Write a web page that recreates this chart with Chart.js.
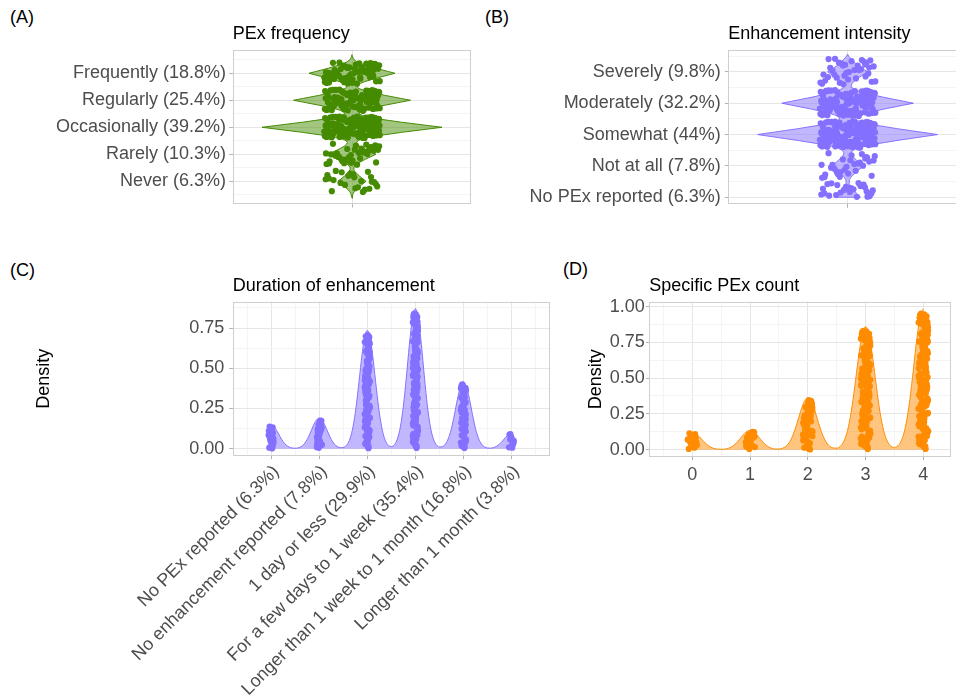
<!DOCTYPE html>
<html>
<head>
<meta charset="utf-8">
<script src="https://cdn.jsdelivr.net/npm/chart.js"></script>
<style>
html,body{margin:0;padding:0;width:956px;height:698px;overflow:hidden;background:#fff;}
.cv{position:absolute;}
.lab{position:absolute;font-family:"Liberation Sans",Arial,Helvetica,sans-serif;font-size:18px;line-height:18px;color:#000;white-space:nowrap;}
</style>
</head>
<body>
<div class="lab" style="left:10px;top:8px">(A)</div>
<div class="lab" style="left:485px;top:8px">(B)</div>
<div class="lab" style="left:10px;top:261px">(C)</div>
<div class="lab" style="left:563px;top:260px">(D)</div>
<canvas id="cA" class="cv" style="left:0px;top:0px;width:480px;height:219px" width="480" height="219"></canvas>
<canvas id="cB" class="cv" style="left:480px;top:0px;width:490px;height:220px" width="490" height="220"></canvas>
<canvas id="cC" class="cv" style="left:0px;top:255px;width:560px;height:443px" width="560" height="443"></canvas>
<canvas id="cD" class="cv" style="left:560px;top:255px;width:396px;height:250px" width="396" height="250"></canvas>
<script>
// ---------------- DATA ----------------
// (A) PEx frequency — categories bottom to top
const labelsA = ['Never (6.3%)', 'Rarely (10.3%)', 'Occasionally (39.2%)', 'Regularly (25.4%)', 'Frequently (18.8%)'];
const countsA = [25, 41, 156, 101, 75];
const jitterSideA = [0, 0, 0, 0, 0];          // 0 = both ways, 1 = upward only
// violin half-width, y from 0.375 in steps of 0.0625
const violinStartA = 0.375;
const violinWidthA = [0, 0.35, 0.7, 1.4, 2.5, 3.9, 5.9, 7.7, 9.8, 11.9, 14,
  11.9, 9.8, 7.7, 5.9, 4.0, 2.8, 2.0, 1.9, 2.75, 4.5, 6.8, 10.1, 13.2, 16.8, 20.4, 24,
  20.4, 16.8, 13.2, 10.1, 7.2, 5.4, 4.65, 5.7, 9.6, 16.5, 25.3, 37.8, 49.5, 63, 76.5, 90,
  76.5, 63, 49.5, 37.8, 25.5, 16.9, 10.5, 7.4, 8.1, 11.6, 16.8, 24.6, 32.2, 41, 49.7, 58.5,
  49.7, 41, 32.2, 24.6, 16.6, 11.0, 6.9, 5.1, 5.8, 8.4, 12.3, 18.1, 23.7, 30.1, 36.6, 43,
  36.6, 30.1, 23.7, 18.1, 12, 7.7, 4.3, 2.15, 1.1, 0.4, 0];

// (B) Enhancement intensity — categories bottom to top
const labelsB = ['No PEx reported (6.3%)', 'Not at all (7.8%)', 'Somewhat (44%)', 'Moderately (32.2%)', 'Severely (9.8%)'];
const countsB = [25, 31, 175, 128, 39];
const jitterSideB = [1, 0, 0, 0, 0];
const violinStartB = 1.0;
const violinWidthB = [12.9, 10.97, 9.03, 7.10, 5.42, 3.69, 2.51, 1.69, 1.45, 1.92, 3.03, 4.54, 6.72, 8.8, 11.2, 13.6, 16,
  13.6, 11.2, 8.8, 6.72, 4.93, 3.96, 3.85, 5.3, 9.4, 16.4, 25.3, 37.8, 49.5, 63, 76.5, 90,
  76.5, 63, 49.5, 37.8, 25.5, 17.0, 10.65, 7.8, 8.83, 12.9, 18.9, 27.6, 36.2, 46.1, 55.9, 65.8,
  55.9, 46.1, 36.2, 27.6, 18.5, 12.1, 7.1, 4.3, 3.65, 4.4, 5.9, 8.4, 11, 14, 17, 20,
  17, 14, 11, 8.6, 6.5, 4.6, 2.8, 1.1, 0];

// (C) Duration of enhancement
const labelsC = ['No PEx reported (6.3%)', 'No enhancement reported (7.8%)', '1 day or less (29.9%)',
  'For a few days to 1 week (35.4%)', 'Longer than 1 week to 1 month (16.8%)', 'Longer than 1 month (3.8%)'];
const countsC = [25, 31, 119, 141, 67, 15];
const peaksC = [0.145, 0.19, 0.735, 0.87, 0.415, 0.094];
const densStartC = 1;
const densC = [0.145, 0.1346, 0.1077, 0.0742, 0.0441, 0.0226, 0.0100, 0.0042, 0.0029, 0.0053, 0.0131, 0.0296, 0.0578, 0.0972, 0.1411, 0.1763,
  0.19, 0.1763, 0.1411, 0.0972, 0.0578, 0.0297, 0.0135, 0.0067, 0.0079, 0.0196, 0.0505, 0.1144, 0.2234, 0.3762, 0.5457, 0.6821,
  0.735, 0.6821, 0.5457, 0.3762, 0.2234, 0.1145, 0.0509, 0.0213, 0.0137, 0.0245, 0.0601, 0.1355, 0.2645, 0.4453, 0.6460, 0.8074,
  0.87, 0.8074, 0.6460, 0.4453, 0.2645, 0.1354, 0.0599, 0.0237, 0.0110, 0.0129, 0.0290, 0.0647, 0.1262, 0.2124, 0.3081, 0.3851,
  0.415, 0.3851, 0.3081, 0.2124, 0.1262, 0.0646, 0.0285, 0.0111, 0.0043, 0.0035, 0.0067, 0.0147, 0.0286, 0.0481, 0.0698, 0.0872,
  0.094];

// (D) Specific PEx count
const labelsD = ['0', '1', '2', '3', '4'];
const valuesD = [0, 1, 2, 3, 4];
const countsD = [19, 22, 58, 139, 160];
const peaksD = [0.12, 0.135, 0.36, 0.86, 0.985];
const densStartD = 0;
const densD = [0.12, 0.1114, 0.0891, 0.0614, 0.0365, 0.0187, 0.0083, 0.0035, 0.0022, 0.0038, 0.0093, 0.0210, 0.0410, 0.0691, 0.1002, 0.1253,
  0.135, 0.1253, 0.1002, 0.0691, 0.0410, 0.0210, 0.0095, 0.0044, 0.0042, 0.0097, 0.0248, 0.0560, 0.1094, 0.1842, 0.2673, 0.3341,
  0.36, 0.3341, 0.2673, 0.1842, 0.1094, 0.0561, 0.0252, 0.0115, 0.0104, 0.0233, 0.0592, 0.1338, 0.2614, 0.4401, 0.6386, 0.7981,
  0.86, 0.7981, 0.6386, 0.4401, 0.2614, 0.1339, 0.0596, 0.0248, 0.0158, 0.0278, 0.0681, 0.1533, 0.2994, 0.5041, 0.7314, 0.9141,
  0.985];

// fixed jitter offsets (hand-typed, in percent of jitter range)
const jitterX = [-83, 12, 57, -41, 90, -6, 33, -72, 68, -25, 4, 79, -58, 21, -94, 46, -13, 85, -37, 62, -66, 8, 39, -88, 71, -19, 95, -50, 27, -3,
  53, -77, 16, 88, -31, 64, -97, 42, -9, 74, -45, 30, -62, 99, -22, 5, 81, -70, 48, -15, 36, -86, 59, 2, -54, 93, -28, 67, -11, 24,
  -80, 51, -39, 77, -4, 14, -91, 63, -47, 38, 86, -17, -68, 29, 55, -35, 97, -59, 10, -82, 44, 70, -26, -93, 18, 60, -7, 83, -49, 34,
  -75, 92, -2, 47, -64, 26, 76, -40, 1, -87, 58, -20, 89, -56, 35, -12, 66, -99, 22, -43, 80, -8, 52, -73, 13, 96, -33, 41, -61, 73,
  -24, 7, -84, 50, -16, 87, -52, 19, -95, 65, -36, 31, 94, -69, 45, -1, 78, -46, 23, -79, 56, -29, 11, -90, 69, -14, 37, 84, -57, 3,
  -74, 61, -32, 98, -44, 28, -85, 49, -10, 72, -63, 15, 91, -38, 54, -21, -96, 40, 82, -53, 9, -67, 32, 75, -5, -48, 20, 63];
const jitterY = [27, -64, 88, -15, -47, 72, 3, -91, 40, -33, 65, -8, 96, -55, 19, -77, 51, -26, 84, -69, 11, 37, -98, 58, -4, -42, 79, 24, -86, 45,
  -17, 93, -60, 6, 70, -35, -81, 15, 54, -12, 99, -50, 30, -73, 62, -2, 87, -39, 21, -94, 47, -20, 76, -58, 9, 41, -83, 67, -29, 14,
  -66, 90, -44, 33, -7, 81, -90, 56, -22, 18, -75, 49, 97, -37, 2, -61, 74, -13, 43, -85, 26, 61, -48, 8, -96, 35, -70, 83, -24, 52,
  -1, 68, -79, 16, -53, 92, -31, 39, -88, 5, 77, -45, 59, -16, 23, -67, 95, -40, 12, -57, 85, -9, 46, -92, 31, -28, 71, -74, 4, 63,
  -19, 89, -51, 20, -82, 57, -34, 98, -63, 13, -5, 78, -46, 36, -99, 48, -25, 69, -87, 25, -11, 91, -56, 7, -72, 53, -36, 82, -3, 42,
  -78, 64, -21, 17, -89, 38, -52, 75, -14, 94, -43, 29, -68, 10, 60, -30, 86, -95, 44, -6, 66, -59, 1, -80, 34];

// ---------------- STYLE ----------------
const FONT = '"Liberation Sans", Arial, Helvetica, sans-serif';
const GREEN = '#458B00', GREEN_FILL = 'rgba(69,139,0,0.5)';
const PURPLE = '#8470FF', PURPLE_FILL = 'rgba(132,112,255,0.5)';
const ORANGE = '#FF8C00', ORANGE_FILL = 'rgba(255,140,0,0.5)';
const GRID_MAJOR = '#e6e6e6', GRID_MINOR = '#f4f4f4', TICK_COLOR = '#b3b3b3', BORDER_COLOR = '#cfcfcf';
const DOT_R = 3.1;

Chart.defaults.font.family = FONT;
Chart.defaults.font.size = 18;
Chart.defaults.color = '#4d4d4d';
Chart.defaults.animation = false;

function onStep(v, step) { const r = v / step; return Math.abs(r - Math.round(r)) < 1e-6; }
function gridOpts(step) {
  return {
    color: c => onStep(c.tick.value, step) ? GRID_MAJOR : GRID_MINOR,
    lineWidth: 1,
    drawTicks: true,
    tickLength: 3.5,
    tickWidth: 1,
    tickColor: c => onStep(c.tick.value, step) ? TICK_COLOR : 'rgba(0,0,0,0)'
  };
}
const catLabel = labels => v => (onStep(v, 1) && labels[Math.round(v) - 1] !== undefined) ? labels[Math.round(v) - 1] : '';
function panelTitle(text, padTop) {
  return { display: true, text, align: 'start', fullSize: false, color: '#000',
    font: { size: 18, weight: 'normal', family: FONT }, padding: { top: padTop, bottom: 4.7 } };
}
const borderPlugin = {
  id: 'panelBorder',
  afterDatasetsDraw(chart) {
    const a = chart.chartArea, c = chart.ctx;
    c.save(); c.strokeStyle = BORDER_COLOR; c.lineWidth = 1;
    const l = Math.round(a.left) + 0.5, t = Math.round(a.top) + 0.5, r = Math.round(a.right) - 0.5, b = Math.round(a.bottom) - 0.5;
    c.strokeRect(l, t, r - l, b - t);
    c.restore();
  }
};

// ---------------- BUILDERS ----------------
function violinHalf(start, widths, sign, withBase) {
  const pts = widths.map((w, i) => ({ x: sign * w, y: start + i * 0.0625 }));
  if (withBase) pts.unshift({ x: 0, y: start });
  return pts;
}
function jitterCats(positions, counts, sides, wx, wy) {
  const pts = [];
  const L = jitterX.length;
  positions.forEach((p, i) => {
    const s = (i * 53) % L;
    for (let j = 0; j < counts[i]; j++) {
      const k = (s + j) % L;
      const jy = sides[i] ? Math.abs(jitterY[k]) * 1.1 : jitterY[k];
      pts.push({ x: jitterX[k] / 100 * wx, y: p + jy / 100 * wy });
    }
  });
  return pts;
}
function jitterDens(positions, counts, peaks, wx) {
  const pts = [];
  const L = jitterX.length;
  positions.forEach((p, i) => {
    const s = (i * 41) % L;
    for (let j = 0; j < counts[i]; j++) {
      const k = (s + j) % L;
      pts.push({ x: p + jitterX[k] / 100 * wx, y: peaks[i] * 0.97 * (jitterY[k] + 100) / 200 });
    }
  });
  return pts;
}

function violinChart(id, title, labels, counts, sides, vStart, vWidths, withBase, color, fillColor, yMin, yMax, yAxisWidth, padRight, padBottom, tickPad, jitterH) {
  const positions = labels.map((_, i) => i + 1);
  return new Chart(document.getElementById(id), {
    type: 'line',
    data: {
      datasets: [
        { type: 'scatter', data: jitterCats(positions, counts, sides, 28, jitterH), pointRadius: DOT_R, pointBorderWidth: 0, pointBackgroundColor: color, showLine: false },
        { data: violinHalf(vStart, vWidths, 1, withBase), indexAxis: 'y', borderColor: color, borderWidth: 1, backgroundColor: fillColor, fill: 'origin', pointRadius: 0, tension: 0 },
        { data: violinHalf(vStart, vWidths, -1, withBase), indexAxis: 'y', borderColor: color, borderWidth: 1, backgroundColor: fillColor, fill: 'origin', pointRadius: 0, tension: 0 }
      ]
    },
    options: {
      responsive: false, animation: false, events: [],
      layout: { padding: { left: 0, top: 0, right: padRight, bottom: padBottom }, autoPadding: false },
      plugins: { legend: { display: false }, tooltip: { enabled: false }, title: panelTitle(title, 23.2) },
      scales: {
        x: { type: 'linear', min: -119.3, max: 119.3,
             afterBuildTicks: s => { s.ticks = [{ value: 0 }]; },
             ticks: { callback: () => '' }, grid: gridOpts(1), border: { display: false },
             afterFit: s => { s.height = 15; } },
        y: { type: 'linear', min: yMin, max: yMax,
             ticks: { stepSize: 0.5, includeBounds: false, autoSkip: false, padding: tickPad, callback: catLabel(labels) },
             grid: gridOpts(1), border: { display: false },
             afterFit: s => { s.width = yAxisWidth; } }
      }
    },
    plugins: [borderPlugin]
  });
}

violinChart('cA', 'PEx frequency', labelsA, countsA, jitterSideA, violinStartA, violinWidthA, false, GREEN, GREEN_FILL, 0.16, 5.88, 232.7, 8.7, 0, 3.2, 0.40);
violinChart('cB', 'Enhancement intensity', labelsB, countsB, jitterSideB, violinStartB, violinWidthB, true, PURPLE, PURPLE_FILL, 0.776, 5.713, 248.3, 3.1, 0.7, 4.1, 0.42);

// (C)
new Chart(document.getElementById('cC'), {
  type: 'line',
  data: {
    datasets: [
      { type: 'scatter', data: jitterDens(labelsC.map((_, i) => i + 1), countsC, peaksC, 0.055), pointRadius: DOT_R, pointBorderWidth: 0, pointBackgroundColor: PURPLE, showLine: false },
      { data: densC.map((d, i) => ({ x: densStartC + i * 0.0625, y: d })), borderColor: PURPLE, borderWidth: 1, backgroundColor: PURPLE_FILL, fill: 'origin', pointRadius: 0, cubicInterpolationMode: 'monotone' }
    ]
  },
  options: {
    responsive: false, animation: false, events: [],
    layout: { padding: { left: 0, top: 0, right: 10, bottom: 0 }, autoPadding: false },
    plugins: { legend: { display: false }, tooltip: { enabled: false }, title: panelTitle('Duration of enhancement', 20.4) },
    scales: {
      x: { type: 'linear', min: 0.2, max: 6.8,
           ticks: { stepSize: 0.5, includeBounds: false, autoSkip: false, minRotation: 45, maxRotation: 45, padding: 2, labelOffset: 5, callback: catLabel(labelsC) },
           grid: gridOpts(1), border: { display: false },
           afterFit: s => { s.height = 242.3; } },
      y: { type: 'linear', min: -0.0435, max: 0.9135,
           ticks: { stepSize: 0.125, includeBounds: false, autoSkip: false, padding: 5, callback: v => onStep(v, 0.25) ? v.toFixed(2) : '' },
           grid: gridOpts(0.25), border: { display: false },
           title: { display: true, text: 'Density', color: '#000', font: { size: 18, family: FONT }, padding: { top: 33, bottom: 0 } },
           afterFit: s => { s.width = 232.7; } }
    }
  },
  plugins: [borderPlugin]
});

// (D)
new Chart(document.getElementById('cD'), {
  type: 'line',
  data: {
    datasets: [
      { type: 'scatter', data: jitterDens(valuesD, countsD, peaksD, 0.085), pointRadius: DOT_R, pointBorderWidth: 0, pointBackgroundColor: ORANGE, showLine: false },
      { data: densD.map((d, i) => ({ x: densStartD + i * 0.0625, y: d })), borderColor: ORANGE, borderWidth: 1, backgroundColor: ORANGE_FILL, fill: 'origin', pointRadius: 0, cubicInterpolationMode: 'monotone' }
    ]
  },
  options: {
    responsive: false, animation: false, events: [],
    layout: { padding: { left: 0, top: 0, right: 5.3, bottom: 0 }, autoPadding: false },
    plugins: { legend: { display: false }, tooltip: { enabled: false }, title: panelTitle('Specific PEx count', 20.4) },
    scales: {
      x: { type: 'linear', min: -0.745, max: 4.474,
           ticks: { stepSize: 0.5, includeBounds: false, autoSkip: false, maxRotation: 0, padding: 4, callback: v => { const i = valuesD.indexOf(v); return i >= 0 ? labelsD[i] : ''; } },
           grid: gridOpts(1), border: { display: false },
           afterFit: s => { s.height = 48.3; } },
      y: { type: 'linear', min: -0.0493, max: 1.034,
           ticks: { stepSize: 0.125, includeBounds: false, autoSkip: false, padding: 1, callback: v => onStep(v, 0.25) ? v.toFixed(2) : '' },
           grid: gridOpts(0.25), border: { display: false },
           title: { display: true, text: 'Density', color: '#000', font: { size: 18, family: FONT }, padding: { top: 25, bottom: 0 } },
           afterFit: s => { s.width = 89.3; } }
    }
  },
  plugins: [borderPlugin]
});
</script>
</body>
</html>
